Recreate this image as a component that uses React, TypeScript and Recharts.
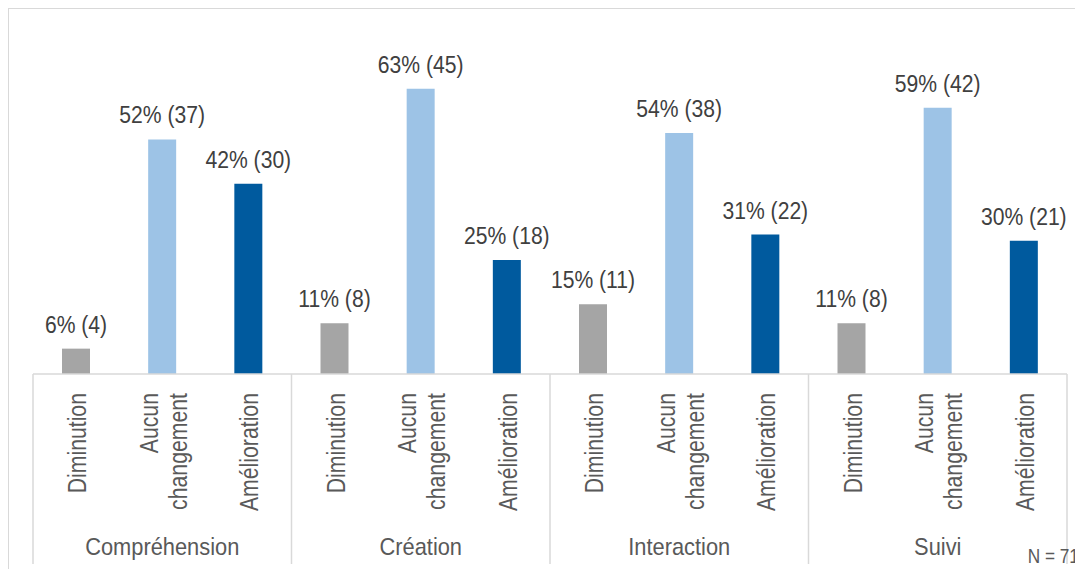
import React from 'react';
import { BarChart, Bar, XAxis, YAxis, Cell, LabelList } from 'recharts';

const groups = ['Compréhension', 'Création', 'Interaction', 'Suivi'];
const subLabels = ['Diminution', 'Aucun changement', 'Amélioration'];
const counts = [4, 37, 30, 8, 45, 18, 11, 38, 22, 8, 42, 21];
const percents = [6, 52, 42, 11, 63, 25, 15, 54, 31, 11, 59, 30];
const colors = ['#A5A5A5', '#9DC3E6', '#005A9E'];
const noteText = 'N = 71';

const data = counts.map((c, i) => ({
  key: `${groups[Math.floor(i / 3)]}-${subLabels[i % 3]}`,
  sub: subLabels[i % 3],
  group: groups[Math.floor(i / 3)],
  value: c,
  label: `${percents[i]}% (${c})`,
}));

const FONT = "'Liberation Sans', Arial, sans-serif";
const W = 1074;
const H = 560;
const M = { top: 48, right: 16, left: 24, bottom: 0 };
const SLOT = (W - M.left - M.right) / counts.length;

const NarrowText = (p: any) => {
  const { x, y, rotate = 0, sx, anchor, dy = 0, size, fill, children } = p;
  return (
    <g transform={`translate(${x} ${y}) rotate(${rotate}) scale(${sx} 1)`}>
      <text x={0} y={dy} textAnchor={anchor} fontSize={size} fill={fill} fontFamily={FONT}>
        {children}
      </text>
    </g>
  );
};

const Tick = (props: any) => {
  const { x, y, index } = props;
  const d = data[index];
  const parts = d.sub === 'Aucun changement' ? ['Aucun', 'changement'] : [d.sub];
  const lh = 29;
  const items: any[] = [];
  parts.forEach((p, k) => {
    const off = (k - (parts.length - 1) / 2) * lh;
    items.push(
      <NarrowText key={`t${k}`} x={x} y={y + 19} rotate={-90} sx={0.85} anchor="end" dy={off + 10} size={25} fill="#595959">
        {p}
      </NarrowText>
    );
  });
  if (index % 3 === 1) {
    items.push(
      <NarrowText key="g" x={x} y={y + 181} sx={0.91} anchor="middle" size={24} fill="#595959">
        {d.group}
      </NarrowText>
    );
  }
  if (index % 3 === 0) {
    items.push(<line key="l" x1={x - SLOT / 2} x2={x - SLOT / 2} y1={y} y2={y + 190} stroke="#D9D9D9" strokeWidth={1.5} />);
  }
  if (index === counts.length - 1) {
    items.push(<line key="r" x1={x + SLOT / 2} x2={x + SLOT / 2} y1={y} y2={y + 190} stroke="#D9D9D9" strokeWidth={1.5} />);
    items.push(
      <NarrowText key="n" x={x + 55} y={y + 189} sx={0.82} anchor="end" size={21} fill="#595959">
        {noteText}
      </NarrowText>
    );
  }
  return <g>{items}</g>;
};

const DataLabel = (props: any) => {
  const { x, y, width, value } = props;
  return (
    <NarrowText x={x + width / 2} y={y - 16} sx={0.88} anchor="middle" size={24} fill="#404040">
      {value}
    </NarrowText>
  );
};

export default function App() {
  return (
    <div
      style={{
        position: 'relative',
        width: 1075,
        height: 561,
        borderTop: '1px solid #D9D9D9',
        borderLeft: '1px solid #D9D9D9',
        boxSizing: 'border-box',
        overflow: 'hidden',
        background: '#fff',
      }}
    >
      <BarChart width={W} height={H} data={data} margin={M}>
        <YAxis hide domain={[0, 50]} />
        <XAxis
          dataKey="key"
          interval={0}
          height={195}
          tickSize={0}
          tickMargin={0}
          axisLine={{ stroke: '#D9D9D9', strokeWidth: 1.5 }}
          tickLine={false}
          tick={<Tick />}
        />
        <Bar dataKey="value" barSize={28} isAnimationActive={false}>
          {data.map((d, i) => (
            <Cell key={d.key} fill={colors[i % 3]} />
          ))}
          <LabelList dataKey="label" content={<DataLabel />} />
        </Bar>
      </BarChart>
    </div>
  );
}
